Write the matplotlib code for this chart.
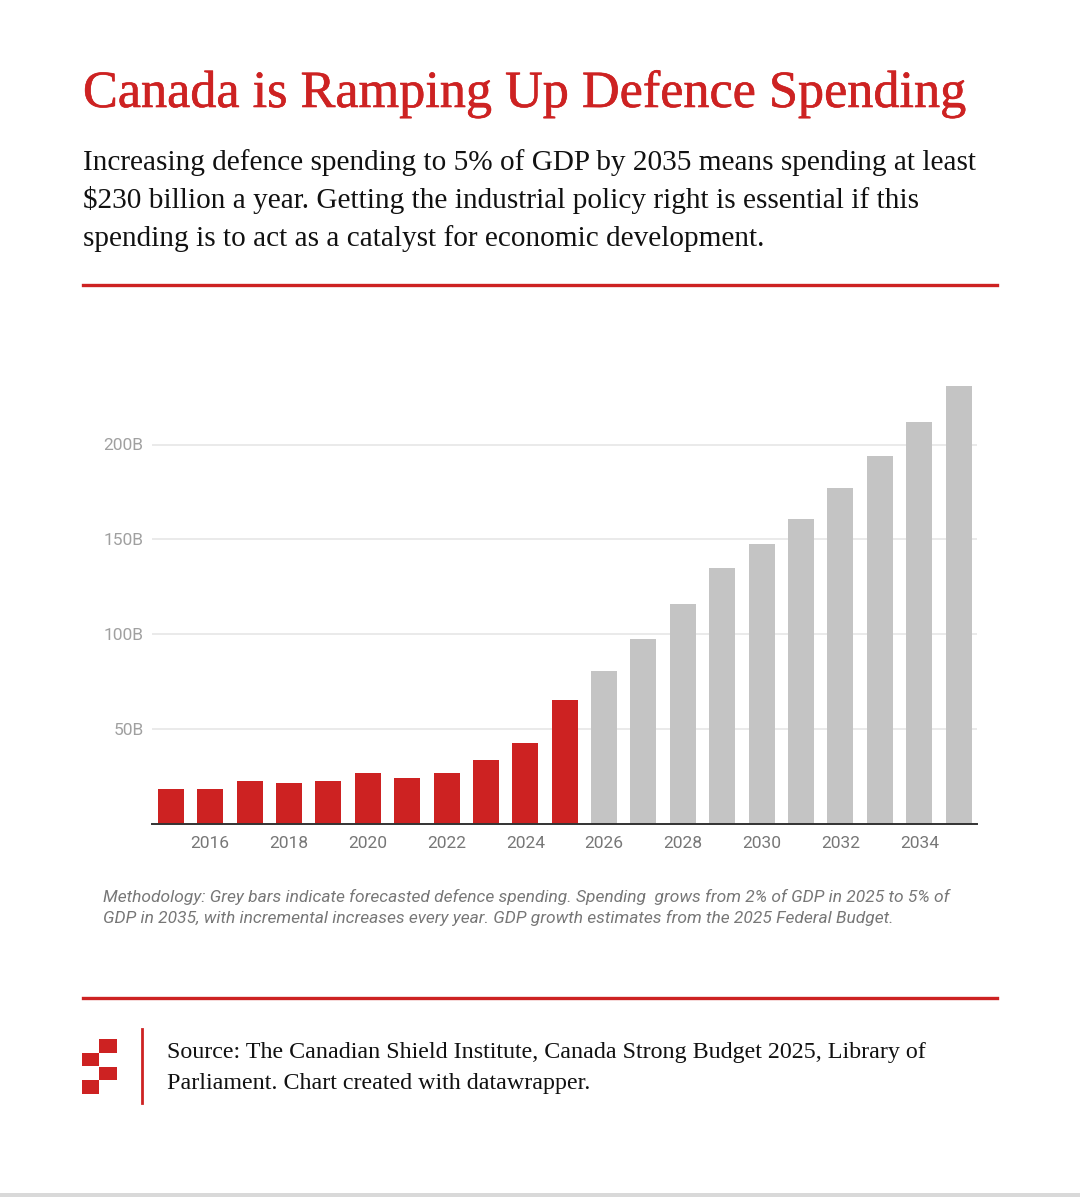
import matplotlib
matplotlib.use("Agg")
import matplotlib.pyplot as plt
import matplotlib.patheffects as pe
from matplotlib.patches import Rectangle
from matplotlib.lines import Line2D

# ---------- data ----------
years = list(range(2015, 2036))
spending = [18.3, 18.3, 22.6, 21.4, 22.6, 26.8, 24.0, 26.8, 33.4, 42.6, 65.0,
            80.6, 97.5, 115.7, 135.0, 147.7, 160.5, 176.9, 193.8, 211.7, 230.9]
forecast_from = 2026
y_ticks = [50, 100, 150, 200]
y_tick_labels = ["50B", "100B", "150B", "200B"]
x_ticks = list(range(2016, 2035, 2))

RED = "#cd2222"
GREY = "#c4c4c4"
W, H = 1080, 1197


def fx(px):
    return px / W


def fy(py):
    return 1 - py / H


fig = plt.figure(figsize=(W / 100, H / 100), dpi=100)
fig.patch.set_facecolor("white")

# ---------- header ----------
fig.text(fx(83), fy(107), "Canada is Ramping Up Defence Spending",
         family="Liberation Serif", fontsize=37.6, color=RED, va="baseline",
         path_effects=[pe.withStroke(linewidth=0.45, foreground=RED)])
subtitle = ["Increasing defence spending to 5% of GDP by 2035 means spending at least",
            "$230 billion a year. Getting the industrial policy right is essential if this",
            "spending is to act as a catalyst for economic development."]
for i, line in enumerate(subtitle):
    fig.text(fx(83), fy(170 + 38 * i), line, family="Liberation Serif",
             fontsize=21.1, color="#111111", va="baseline")

for yy in (285, 998):
    fig.add_artist(Line2D([fx(83), fx(997)], [fy(yy), fy(yy)],
                          transform=fig.transFigure, color=RED, lw=2.4))

# ---------- chart ----------
ax = fig.add_axes([fx(152), fy(823.5), fx(977) - fx(152), (823.5 - 368.7) / H])
colors = [RED if y < forecast_from else GREY for y in years]
ax.bar(years, spending, width=0.66, color=colors, zorder=3)
ax.set_xlim(years[0] - 0.475, years[-1] + 0.465)
ax.set_ylim(0, 240)

ax.set_yticks(y_ticks)
ax.set_yticklabels(y_tick_labels, family="Roboto", fontsize=12.5, color="#a0a0a0")
ax.set_xticks(x_ticks)
ax.set_xticklabels([str(x) for x in x_ticks], family="Roboto", fontsize=12.5, color="#777777")
ax.tick_params(axis="both", length=0)
ax.tick_params(axis="y", pad=6)
ax.tick_params(axis="x", pad=9)
ax.grid(axis="y", color="#e6e6e6", lw=1.2, zorder=0)
for s in ("top", "right", "left"):
    ax.spines[s].set_visible(False)
ax.spines["bottom"].set_color("#333333")
ax.spines["bottom"].set_linewidth(1.4)
ax.spines["bottom"].set_zorder(4)

# ---------- notes ----------
notes = ["Methodology: Grey bars indicate forecasted defence spending. Spending  grows from 2% of GDP in 2025 to 5% of",
         "GDP in 2035, with incremental increases every year. GDP growth estimates from the 2025 Federal Budget."]
for i, line in enumerate(notes):
    fig.text(fx(103), fy(902 + 21 * i), line, family="Roboto", style="italic",
             fontsize=12.55, color="#777777", va="baseline")

# ---------- footer ----------
squares = [(99.3, 1039.3), (81.7, 1052.8), (99.3, 1066.5), (81.7, 1080)]
for sx, sy in squares:
    fig.add_artist(Rectangle((fx(sx), fy(sy + 13.5)), 17.5 / W, 13.5 / H,
                             transform=fig.transFigure, color=RED, lw=0))
fig.add_artist(Line2D([fx(142), fx(142)], [fy(1029), fy(1103)],
                      transform=fig.transFigure, color=RED, lw=2))
source = ["Source: The Canadian Shield Institute, Canada Strong Budget 2025, Library of",
          "Parliament. Chart created with datawrapper."]
for i, line in enumerate(source):
    fig.text(fx(167), fy(1058 + 31 * i), line, family="Liberation Serif",
             fontsize=17.3, color="#111111", va="baseline")

fig.add_artist(Rectangle((0, 0), 1, 4 / H, transform=fig.transFigure,
                         color="#d9d9d9", lw=0))

fig.savefig("out.png", dpi=100)
